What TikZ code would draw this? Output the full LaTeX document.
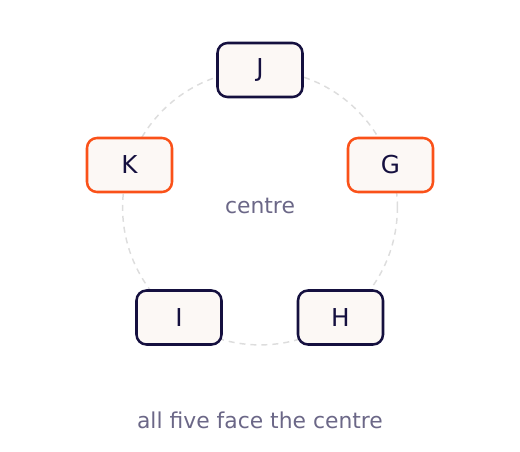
\documentclass[tikz,border=0pt]{standalone}
\usepackage{fontspec}
\setmainfont{DejaVu Sans}
\definecolor{ink}{HTML}{15103F}
\definecolor{accent}{HTML}{FA5119}
\definecolor{paper}{HTML}{FCF8F5}
\definecolor{muted}{HTML}{6B6787}
\definecolor{ring}{HTML}{DDDDDD}
\tikzset{
  seat/.style = {draw = ink, line width = 1.9pt, fill = paper, rounded corners = 7.5pt,
    minimum width = 63.75pt, minimum height = 40.5pt, text = ink, font = \fontsize{18.5}{22}\selectfont},
  hot/.style = {seat, draw = accent},
  note/.style = {text = muted, font = \fontsize{16.4}{19}\selectfont}
}
\begin{document}
\begin{tikzpicture}[x = 0.75pt, y = 0.75pt]
      \useasboundingbox (0, 0) rectangle (520, 451);
      \draw [ring, line width = 1.1pt, dash pattern = on 4.5pt off 3.75pt] (260, 243.5) circle [radius = 137.4];
      \node (centre) at (260, 245) [note] {centre};
      \node (J) at (260, 381) [seat] {J};
      \node (G) at (390.5, 286) [hot] {G};
      \node (H) at (340.5, 133.5) [seat] {H};
      \node (I) at (179, 133.5) [seat] {I};
      \node (K) at (129.5, 286) [hot] {K};
      \node (caption) at (260, 31) [note] {all five face the centre};
    \end{tikzpicture}
\end{document}
